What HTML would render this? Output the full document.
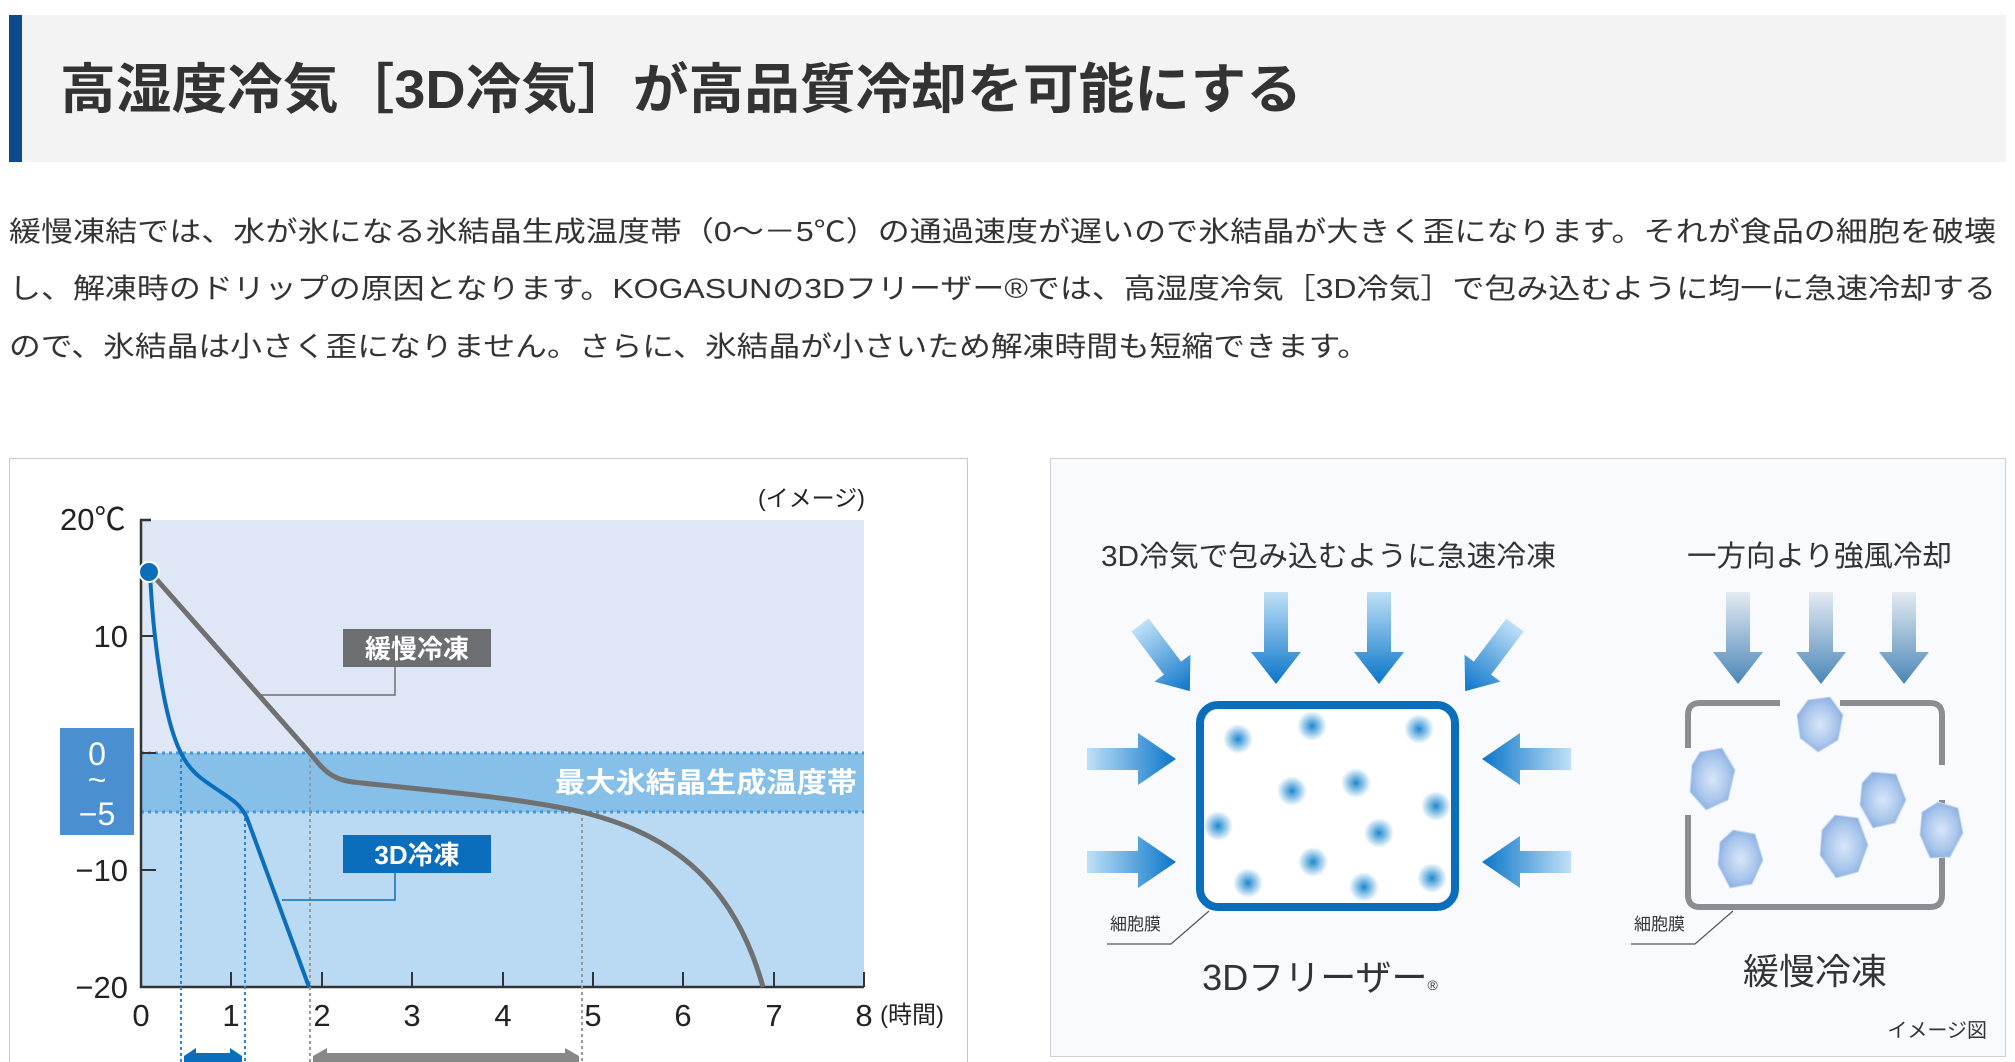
<!DOCTYPE html>
<html><head><meta charset="utf-8"><style>
html,body{margin:0;padding:0;background:#fff;}
svg{display:block;font-family:"Liberation Sans","Noto Sans CJK JP",sans-serif;}
</style></head><body>
<svg width="2015" height="1062" viewBox="0 0 2015 1062" xmlns="http://www.w3.org/2000/svg">
<defs>
<linearGradient id="gd" x1="0" y1="0" x2="0" y2="1"><stop offset="0" stop-color="#bfe0f7"/><stop offset="1" stop-color="#0a75c9"/></linearGradient>
<linearGradient id="gr" x1="0" y1="0" x2="1" y2="0"><stop offset="0" stop-color="#bfe0f7"/><stop offset="1" stop-color="#0a75c9"/></linearGradient>
<linearGradient id="gl" x1="1" y1="0" x2="0" y2="0"><stop offset="0" stop-color="#bfe0f7"/><stop offset="1" stop-color="#0a75c9"/></linearGradient>
<linearGradient id="gg" x1="0" y1="0" x2="0" y2="1"><stop offset="0" stop-color="#e4ebf2"/><stop offset="1" stop-color="#4a86b8"/></linearGradient>
<radialGradient id="dot"><stop offset="0" stop-color="#1d88d0"/><stop offset="1" stop-color="#1d88d0" stop-opacity="0"/></radialGradient>
<radialGradient id="cr"><stop offset="0" stop-color="#d8e6f8"/><stop offset="0.7" stop-color="#a9c6ec"/><stop offset="1" stop-color="#8fb3e3"/></radialGradient>
<g id="adn"><path d="M-12,0 H12 V60 H25 L0,92 L-25,60 H-12 Z"/></g>
</defs>

<rect x="9" y="15" width="1997" height="147" fill="#f3f3f3"/>
<rect x="9" y="15" width="13" height="147" fill="#0d4a8c"/>
<text x="60" y="108" font-size="54" font-weight="bold" fill="#333" textLength="1242" lengthAdjust="spacingAndGlyphs">高湿度冷気［3D冷気］が高品質冷却を可能にする</text>

<g font-size="28" fill="#333">
<text x="9" y="241" textLength="1987" lengthAdjust="spacingAndGlyphs">緩慢凍結では、水が氷になる氷結晶生成温度帯（0～－5℃）の通過速度が遅いので氷結晶が大きく歪になります。それが食品の細胞を破壊</text>
<text x="9" y="298" textLength="1987" lengthAdjust="spacingAndGlyphs">し、解凍時のドリップの原因となります。KOGASUNの3Dフリーザー®では、高湿度冷気［3D冷気］で包み込むように均一に急速冷却する</text>
<text x="9" y="356" textLength="1360" lengthAdjust="spacingAndGlyphs">ので、氷結晶は小さく歪になりません。さらに、氷結晶が小さいため解凍時間も短縮できます。</text>
</g>

<rect x="9.5" y="458.5" width="958" height="610" fill="#fff" stroke="#c8c8c8"/>
<rect x="141" y="520" width="723" height="233" fill="#dfe6f5"/>
<rect x="141" y="753" width="723" height="59" fill="#86bfe8"/>
<rect x="141" y="812" width="723" height="175" fill="#badaf3"/>
<line x1="141" y1="753" x2="864" y2="753" stroke="#4a95d6" stroke-width="3" stroke-dasharray="3,4"/>
<line x1="141" y1="812" x2="864" y2="812" stroke="#4a95d6" stroke-width="3" stroke-dasharray="3,4"/>
<path d="M151,520 H141 V987 H864" fill="none" stroke="#333" stroke-width="2.5"/>
<g stroke="#333" stroke-width="2"><line x1="141" y1="636" x2="156" y2="636"/><line x1="141" y1="753" x2="156" y2="753"/><line x1="141" y1="870" x2="156" y2="870"/>
<line x1="231" y1="987" x2="231" y2="972"/><line x1="322" y1="987" x2="322" y2="972"/><line x1="412" y1="987" x2="412" y2="972"/><line x1="503" y1="987" x2="503" y2="972"/><line x1="593" y1="987" x2="593" y2="972"/><line x1="683" y1="987" x2="683" y2="972"/><line x1="774" y1="987" x2="774" y2="972"/><line x1="864" y1="987" x2="864" y2="972"/></g>
<text x="555" y="792" font-size="28" font-weight="bold" fill="#fff" textLength="302" lengthAdjust="spacingAndGlyphs">最大氷結晶生成温度帯</text>
<g stroke-width="2" stroke-dasharray="3,3" fill="none">
<line x1="181" y1="753" x2="181" y2="1062" stroke="#2a86d0"/><line x1="245" y1="812" x2="245" y2="1062" stroke="#2a86d0"/>
<line x1="310" y1="753" x2="310" y2="1062" stroke="#999"/><line x1="582" y1="812" x2="582" y2="1062" stroke="#999"/></g>
<path d="M184,1056 L196,1048 V1053 H230 V1048 L242,1056 V1062 H184Z" fill="#0a6ebd"/>
<path d="M313,1056 L327,1048 V1053 H565 V1048 L579,1056 V1062 H313Z" fill="#888"/>
<path d="M150,572 L310,753 C327,775 335,781 362,783 C426,790 515,797 582,812 C644,828 728,860 763,987" fill="none" stroke="#707070" stroke-width="5"/>
<path d="M150,572 C153,640 164,720 181,753 C190,772 203,780 218,790 C233,800 241,805 247,818 L309,987" fill="none" stroke="#0a6ebd" stroke-width="4"/>
<circle cx="149" cy="572" r="10" fill="#0a6ebd" stroke="#fff" stroke-width="2"/>
<rect x="343" y="629" width="148" height="38" fill="#6d6e71"/>
<text x="417" y="658" font-size="26" font-weight="bold" fill="#fff" text-anchor="middle">緩慢冷凍</text>
<path d="M395,667 V695 H259" fill="none" stroke="#6d6e71" stroke-width="1.5"/>
<rect x="343" y="835" width="148" height="38" fill="#0a6ebd"/>
<text x="417" y="864" font-size="26" font-weight="bold" fill="#fff" text-anchor="middle">3D冷凍</text>
<path d="M395,873 V900 H282" fill="none" stroke="#0a6ebd" stroke-width="1.5"/>
<rect x="60" y="728" width="74" height="107" fill="#4a90d0"/>
<g fill="#fff" font-size="32" text-anchor="middle"><text x="97" y="765">0</text><text x="97" y="791">~</text><text x="97" y="825">−5</text></g>
<g font-size="31" fill="#222">
<text x="60" y="530">20℃</text>
<text x="128" y="647" text-anchor="end">10</text>
<text x="128" y="881" text-anchor="end">−10</text>
<text x="128" y="998" text-anchor="end">−20</text>
<g text-anchor="middle"><text x="141" y="1026">0</text><text x="231" y="1026">1</text><text x="322" y="1026">2</text><text x="412" y="1026">3</text><text x="503" y="1026">4</text><text x="593" y="1026">5</text><text x="683" y="1026">6</text><text x="774" y="1026">7</text><text x="864" y="1026">8</text></g>
<text x="880" y="1023" font-size="24">(時間)</text>
<text x="758" y="506" font-size="23">(イメージ)</text>
</g>

<rect x="1050.5" y="458.5" width="955" height="598" fill="#f8fafd" stroke="#d0d0d0"/>
<g font-size="29" fill="#333">
<text x="1101" y="566" textLength="455" lengthAdjust="spacingAndGlyphs">3D冷気で包み込むように急速冷凍</text>
<text x="1687" y="566" textLength="265" lengthAdjust="spacingAndGlyphs">一方向より強風冷却</text>
</g>
<g fill="url(#gd)">
<use href="#adn" transform="translate(1276,592)"/><use href="#adn" transform="translate(1379,592)"/>
<use href="#adn" transform="translate(1140,625) rotate(-37) scale(0.9)"/>
<use href="#adn" transform="translate(1515,625) rotate(37) scale(0.9)"/>
</g>
<path d="M1087,748 H1138 V733 L1176,759 L1138,785 V770 H1087Z" fill="url(#gr)"/>
<path d="M1087,851 H1138 V836 L1176,862 L1138,888 V873 H1087Z" fill="url(#gr)"/>
<path d="M1571,748 H1520 V733 L1482,759 L1520,785 V770 H1571Z" fill="url(#gl)"/>
<path d="M1571,851 H1520 V836 L1482,862 L1520,888 V873 H1571Z" fill="url(#gl)"/>
<rect x="1200" y="705" width="255" height="202" rx="18" fill="#fff" stroke="#0a6ebd" stroke-width="8"/>
<g fill="url(#dot)">
<circle cx="1238" cy="739" r="15"/><circle cx="1312" cy="726" r="15"/><circle cx="1419" cy="729" r="15"/><circle cx="1292" cy="791" r="15"/><circle cx="1356" cy="783" r="15"/><circle cx="1436" cy="806" r="15"/><circle cx="1218" cy="826" r="15"/><circle cx="1379" cy="833" r="15"/><circle cx="1313" cy="862" r="15"/><circle cx="1248" cy="883" r="15"/><circle cx="1364" cy="887" r="15"/><circle cx="1432" cy="878" r="15"/>
</g>
<g fill="url(#gg)"><use href="#adn" transform="translate(1738,592)"/><use href="#adn" transform="translate(1821,592)"/><use href="#adn" transform="translate(1904,592)"/></g>
<path d="M1780,703 H1700 Q1688,703 1688,715 V748 M1688,815 V895 Q1688,907 1700,907 H1930 Q1942,907 1942,895 V800 M1942,765 V715 Q1942,703 1930,703 H1840" fill="none" stroke="#8a8d92" stroke-width="6"/>
<g fill="url(#cr)" stroke="#c5d8f0" stroke-width="1">
<polygon points="1808,700 1830,697 1843,715 1838,740 1818,752 1800,738 1797,715"/>
<polygon points="1700,752 1722,748 1735,770 1728,800 1706,810 1690,792 1692,765"/>
<polygon points="1872,772 1896,774 1906,800 1895,823 1873,828 1860,805 1862,783"/>
<polygon points="1938,802 1958,808 1963,833 1950,857 1930,858 1920,835 1922,812"/>
<polygon points="1733,830 1755,834 1763,860 1752,884 1730,888 1718,865 1720,842"/>
<polygon points="1835,815 1858,818 1868,845 1858,872 1836,878 1820,855 1822,830"/>
</g>
<g font-size="17" fill="#333"><text x="1110" y="930">細胞膜</text><text x="1634" y="930">細胞膜</text></g>
<g stroke="#555" stroke-width="1.2" fill="none"><path d="M1107,944 H1171 L1209,911"/><path d="M1631,944 H1695 L1733,911"/></g>
<g font-size="36" fill="#333" text-anchor="middle">
<text x="1320" y="990">3Dフリーザー<tspan font-size="14">®</tspan></text>
<text x="1815" y="984">緩慢冷凍</text>
</g>
<text x="1987" y="1037" font-size="20" fill="#333" text-anchor="end">イメージ図</text>
</svg>
</body></html>
